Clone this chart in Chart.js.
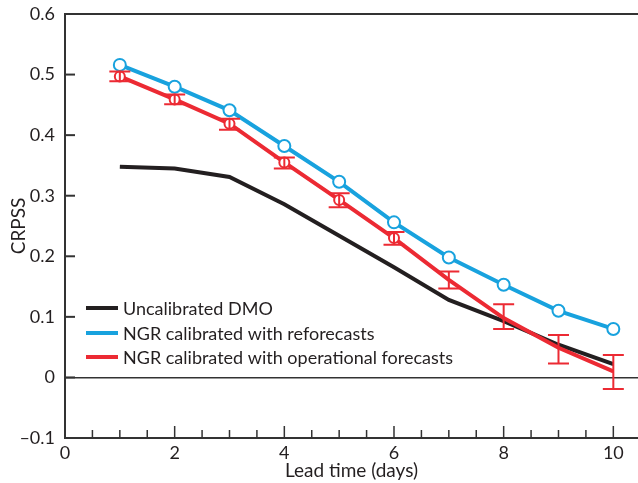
<!DOCTYPE html>
<html>
<head>
<meta charset="utf-8">
<script src="https://cdn.jsdelivr.net/npm/chart.js@4.4.1/dist/chart.umd.min.js"></script>
<style>
  body { margin: 0; background: #fff; }
  #chart { display: block; }
</style>
</head>
<body>
<canvas id="chart" width="638" height="483"></canvas>
<script>
// Lead time (days)
const leadDays = [1, 2, 3, 4, 5, 6, 7, 8, 9, 10];

// CRPSS per series
const uncalibratedDMO = [0.348, 0.345, 0.331, 0.286, 0.234, 0.182, 0.128, 0.093, 0.054, 0.022];
const ngrReforecasts = [0.516, 0.480, 0.441, 0.382, 0.323, 0.256, 0.198, 0.153, 0.110, 0.080];
const ngrOperational = [0.497, 0.459, 0.419, 0.355, 0.293, 0.230, 0.161, 0.098, 0.049, 0.010];

// error bar ends for the operational forecasts
const operationalLow = [0.489, 0.451, 0.409, 0.345, 0.281, 0.219, 0.147, 0.080, 0.023, -0.019];
const operationalHigh = [0.505, 0.467, 0.427, 0.363, 0.304, 0.240, 0.175, 0.121, 0.070, 0.037];

const seriesLabels = [
  'Uncalibrated DMO',
  'NGR calibrated with reforecasts',
  'NGR calibrated with operational forecasts'
];

const xTicks = [0, 2, 4, 6, 8, 10];
const yTicks = [-0.1, 0, 0.1, 0.2, 0.3, 0.4, 0.5, 0.6];

const FONT = 'Lato, "Noto Sans", sans-serif';
const AXIS_COLOR = '#333333';
const TEXT_COLOR = '#231f20';
const BLACK = '#231f20';
const BLUE = '#18a2de';
const RED = '#ec2a33';

function toPoints(values) {
  return leadDays.map((d, i) => ({ x: d, y: values[i] }));
}

// keep the plot box where the reference has it, whatever the label sizes
function fixBox(size, key) {
  return scale => {
    scale[key] = size;
    scale.paddingTop = 0;
    scale.paddingBottom = 0;
    scale.paddingLeft = 0;
    scale.paddingRight = 0;
  };
}

// inward ticks, top frame line, error bars and the in-plot legend
const decorations = {
  id: 'decorations',
  afterDatasetsDraw(chart) {
    const ctx = chart.ctx;
    const area = chart.chartArea;
    const xs = chart.scales.x;
    const ys = chart.scales.y;

    ctx.save();

    // error bars
    ctx.strokeStyle = RED;
    ctx.lineWidth = 2;
    leadDays.forEach((d, i) => {
      const px = xs.getPixelForValue(d);
      const lo = ys.getPixelForValue(operationalLow[i]);
      const hi = ys.getPixelForValue(operationalHigh[i]);
      ctx.beginPath();
      ctx.moveTo(px, lo);
      ctx.lineTo(px, hi);
      ctx.moveTo(px - 10.5, lo);
      ctx.lineTo(px + 10.5, lo);
      ctx.moveTo(px - 10.5, hi);
      ctx.lineTo(px + 10.5, hi);
      ctx.stroke();
    });

    // top frame line
    ctx.strokeStyle = AXIS_COLOR;
    ctx.lineWidth = 2;
    ctx.beginPath();
    ctx.moveTo(area.left - 1, area.top);
    ctx.lineTo(area.right, area.top);
    ctx.stroke();

    // y ticks pointing inward
    yTicks.forEach(v => {
      const py = ys.getPixelForValue(v);
      ctx.beginPath();
      ctx.moveTo(area.left, py);
      ctx.lineTo(area.left + 10, py);
      ctx.stroke();
    });

    // x ticks pointing inward, long on labelled values
    ctx.lineWidth = 1.5;
    for (let v = 0.5; v <= xs.max; v += 0.5) {
      const px = xs.getPixelForValue(v);
      const len = xTicks.includes(v) ? 12 : 8;
      ctx.beginPath();
      ctx.moveTo(px, area.bottom);
      ctx.lineTo(px, area.bottom - len);
      ctx.stroke();
    }

    // legend
    const colors = [BLACK, BLUE, RED];
    const rowY = [308, 333, 357];
    ctx.font = '18px ' + FONT;
    ctx.textBaseline = 'middle';
    ctx.textAlign = 'left';
    seriesLabels.forEach((label, i) => {
      ctx.strokeStyle = colors[i];
      ctx.lineWidth = 4;
      ctx.beginPath();
      ctx.moveTo(86, rowY[i]);
      ctx.lineTo(118, rowY[i]);
      ctx.stroke();
      ctx.fillStyle = TEXT_COLOR;
      ctx.fillText(label, 123, rowY[i] + 1);
    });

    ctx.restore();
  }
};

new Chart(document.getElementById('chart'), {
  type: 'line',
  data: {
    datasets: [
      {
        label: seriesLabels[0],
        data: toPoints(uncalibratedDMO),
        borderColor: BLACK,
        borderWidth: 4,
        pointRadius: 0,
        order: 3
      },
      {
        label: seriesLabels[1],
        data: toPoints(ngrReforecasts),
        borderColor: BLUE,
        borderWidth: 4,
        pointRadius: 6,
        pointBorderWidth: 2,
        pointBackgroundColor: '#ffffff',
        pointBorderColor: BLUE,
        order: 2
      },
      {
        label: seriesLabels[2],
        data: toPoints(ngrOperational),
        borderColor: RED,
        borderWidth: 4,
        pointRadius: ctx => (ctx.dataIndex < 6 ? 5 : 0),
        pointBorderWidth: 2,
        pointBackgroundColor: '#ffffff',
        pointBorderColor: RED,
        order: 1
      }
    ]
  },
  options: {
    responsive: false,
    animation: false,
    devicePixelRatio: 1,
    layout: {
      autoPadding: false,
      padding: { top: 14, right: 0, left: 0, bottom: 0 }
    },
    plugins: {
      legend: { display: false },
      tooltip: { enabled: false }
    },
    elements: { line: { tension: 0 } },
    scales: {
      x: {
        type: 'linear',
        min: 0,
        max: 10.45,
        afterBuildTicks: scale => { scale.ticks = xTicks.map(v => ({ value: v })); },
        afterFit: fixBox(45, 'height'),
        grid: { display: false, drawTicks: false },
        border: { display: true, color: AXIS_COLOR, width: 2 },
        ticks: {
          padding: 4,
          color: TEXT_COLOR,
          font: { family: FONT, size: 18 },
          maxRotation: 0
        },
        title: {
          display: true,
          text: 'Lead time (days)',
          color: TEXT_COLOR,
          font: { family: FONT, size: 19 },
          padding: { top: 0, bottom: 1 }
        }
      },
      y: {
        type: 'linear',
        min: -0.1,
        max: 0.6,
        afterBuildTicks: scale => { scale.ticks = yTicks.map(v => ({ value: v })); },
        afterFit: fixBox(65, 'width'),
        grid: {
          drawTicks: false,
          color: ctx => (ctx.tick && ctx.tick.value === 0 ? AXIS_COLOR : 'rgba(0,0,0,0)'),
          lineWidth: 1.5
        },
        border: { display: true, color: AXIS_COLOR, width: 2 },
        ticks: {
          padding: 10,
          color: TEXT_COLOR,
          font: { family: FONT, size: 18 },
          callback: v => {
            if (Math.abs(v) < 1e-9) return '0';
            if (v < 0) return '\u2013' + Math.abs(v).toFixed(1);
            return v.toFixed(1);
          }
        },
        title: {
          display: true,
          text: 'CRPSS',
          color: TEXT_COLOR,
          font: { family: FONT, size: 19 },
          padding: { top: 7, bottom: 0 }
        }
      }
    }
  },
  plugins: [decorations]
});
</script>
</body>
</html>
